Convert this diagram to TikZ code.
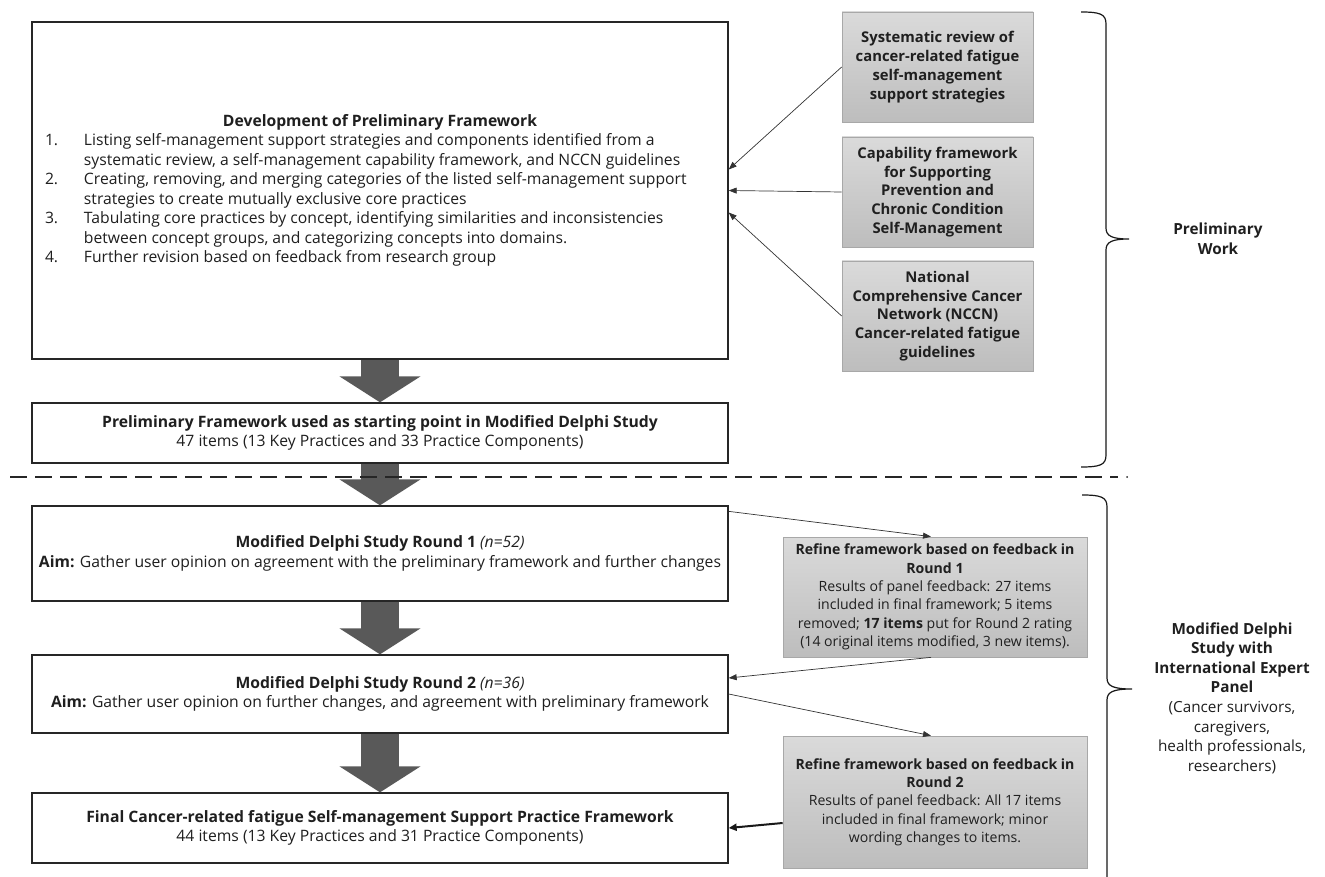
\documentclass[tikz,border=0pt]{standalone}
\usepackage{fontspec}
\setmainfont{Open Sans}
\usepackage{array}
\usetikzlibrary{arrows.meta}
\definecolor{txt}{HTML}{1F1F1F}
\definecolor{gtop}{HTML}{DADADA}
\definecolor{gbot}{HTML}{BDBDBD}
\definecolor{gedge}{HTML}{A8A8A8}
\definecolor{blk}{HTML}{595959}
\newcommand\bodyfs{\fontsize{15.7}{19.5}\selectfont}
\newcommand\labelfs{\fontsize{15.3}{19.6}\selectfont}
\newcommand\grayfs{\fontsize{14.8}{18.8}\selectfont}
\newcommand\reffs{\fontsize{14.1}{18.3}\selectfont}
\tikzset{
  mainbox/.style={draw=black!85, line width=1.3pt, fill=white, minimum width=696pt,
    inner sep=0pt, align=center, text=txt, font=\bodyfs},
  graybox/.style={draw=gedge, line width=0.7pt, top color=gtop, bottom color=gbot,
    inner sep=0pt, align=center, text=txt},
  srcbox/.style={graybox, minimum width=191pt, minimum height=110pt, font=\grayfs\bfseries},
  refbox/.style={graybox, minimum width=304pt, font=\reffs},
  thinarrow/.style={-{Triangle[length=8pt,width=6pt]}, line width=0.7pt, draw=black!80},
  thickarrow/.style={-{Triangle[length=8pt,width=7pt]}, line width=2pt, draw=black!90},
  blockarrow/.style={-{Triangle[length=26pt,width=80pt]}, line width=38pt, draw=blk},
  sidelabel/.style={align=center, text=txt, font=\labelfs},
  bracestyle/.style={line width=1.2pt, draw=black!90}
}
\begin{document}
\begin{tikzpicture}[x=1pt,y=-1pt]
\useasboundingbox (0,0) rectangle (1325,877);

% main column
\node[mainbox, minimum height=337pt] (dev) at (380,190.5) {%
\begin{tabular}{@{}p{39pt}@{}p{607pt}@{}p{24pt}@{}}
\multicolumn{3}{c}{\bfseries Development of Preliminary Framework}\\
1. & Listing self-management support strategies and components identified from a & \\
 & systematic review, a self-management capability framework, and NCCN guidelines & \\
2. & Creating, removing, and merging categories of the listed self-management support & \\
 & strategies to create mutually exclusive core practices & \\
3. & Tabulating core practices by concept, identifying similarities and inconsistencies & \\
 & between concept groups, and categorizing concepts into domains. & \\
4. & Further revision based on feedback from research group & 
\end{tabular}};

\node[mainbox, minimum height=60pt] (pre) at (380,433)
  {\textbf{Preliminary Framework used as starting point in Modified Delphi Study}\\
   47 items (13 Key Practices and 33 Practice Components)};

\node[mainbox, minimum height=95pt] (r1) at (380,553.5)
  {\textbf{Modified Delphi Study Round 1} \textit{(n=52)}\\
   \textbf{Aim:} Gather user opinion on agreement with the preliminary framework and further changes};

\node[mainbox, minimum height=78pt] (r2) at (380,694)
  {\textbf{Modified Delphi Study Round 2} \textit{(n=36)}\\
   \textbf{Aim:} Gather user opinion on further changes, and agreement with preliminary framework};

\node[mainbox, minimum height=70pt] (fin) at (380,828)
  {\textbf{Final Cancer-related fatigue Self-management Support Practice Framework}\\
   44 items (13 Key Practices and 31 Practice Components)};

% source boxes
\node[srcbox] (s1) at (937.5,67)
  {Systematic review of\\cancer-related fatigue\\self-management\\support strategies};
\node[srcbox] (s2) at (937.5,192)
  {Capability framework\\for Supporting\\Prevention and\\Chronic Condition\\Self-Management};
\node[srcbox] (s3) at (937.5,316)
  {National\\Comprehensive Cancer\\Network (NCCN)\\Cancer-related fatigue\\guidelines};

% refine boxes
\node[refbox, minimum height=120pt] (ref1) at (935,597)
  {\textbf{Refine framework based on feedback in}\\\textbf{Round 1}\\
   Results of panel feedback: 27 items\\included in final framework; 5 items\\
   removed; \textbf{17 items} put for Round 2 rating\\(14 original items modified, 3 new items).};
\node[refbox, minimum height=132pt] (ref2) at (935,802)
  {\textbf{Refine framework based on feedback in}\\\textbf{Round 2}\\
   Results of panel feedback: All 17 items\\included in final framework; minor\\
   wording changes to items.};

% side labels
\node[sidelabel] (plab) at (1218,239) {\textbf{Preliminary}\\\textbf{Work}};
\node[sidelabel] (dlab) at (1232,698)
  {\textbf{Modified Delphi}\\\textbf{Study with}\\\textbf{International Expert}\\\textbf{Panel}\\
   (Cancer survivors,\\caregivers,\\health professionals,\\researchers)};

% block arrows
\draw[blockarrow] (dev.south) -- (pre.north);
\draw[blockarrow] (pre.south) -- (r1.north);
\draw[blockarrow] (r1.south) -- (r2.north);
\draw[blockarrow] (r2.south) -- (fin.north);

% thin arrows
\draw[thinarrow] (s1.west) -- ([yshift=21pt]dev.east);
\draw[thinarrow] (s2.west) -- (dev.east);
\draw[thinarrow] (s3.west) -- ([yshift=-22pt]dev.east);
\draw[thinarrow] ([yshift=-6pt]r1.north east) -- ([xshift=-4pt]ref1.north);
\draw[thinarrow] ([xshift=-4pt]ref1.south) -- ([yshift=16pt]r2.east);
\draw[thinarrow] (r2.east) -- ([xshift=-4pt]ref2.north);
\draw[thickarrow] ([yshift=-21pt]ref2.west) -- (fin.east);

% dashed separator
\draw[line width=1.2pt, dash pattern=on 17pt off 8pt, draw=black!85] (10,477) -- (1118,477);
\fill[black!85] (1127,477) circle (1pt);

% braces
\draw[bracestyle] (1081,12) .. controls (1100,12) and (1106,14) .. (1106,24) -- (1106,228)
  .. controls (1106,236) and (1112,239) .. (1129,239)
  .. controls (1112,239) and (1106,242) .. (1106,250) -- (1106,455)
  .. controls (1106,465) and (1100,467) .. (1081,467);
\draw[bracestyle] (1082,495) .. controls (1101,495) and (1107,497) .. (1107,507) -- (1107,678)
  .. controls (1107,686) and (1113,689) .. (1132,689)
  .. controls (1113,689) and (1107,692) .. (1107,700) -- (1107,877);
\end{tikzpicture}
\end{document}
